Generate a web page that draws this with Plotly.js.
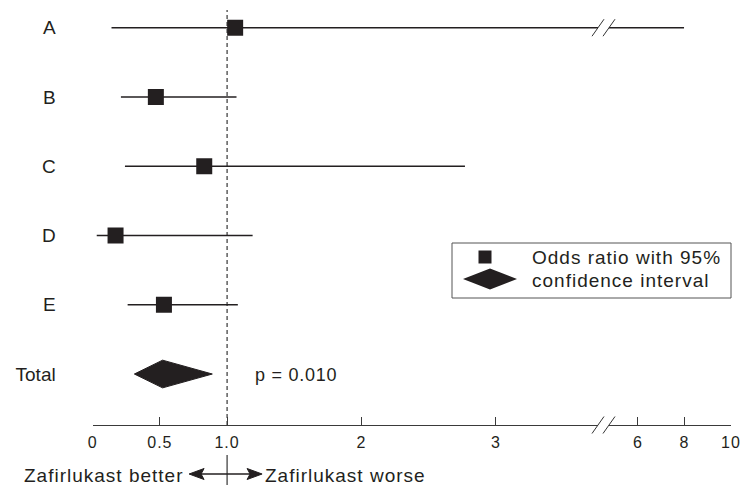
<!DOCTYPE html>
<html>
<head>
<meta charset="utf-8">
<script src="https://cdn.plot.ly/plotly-3.0.1.min.js"></script>
<style>html,body{margin:0;padding:0;background:#fff;}</style>
</head>
<body>
<div id="chart" style="width:742px;height:485px;"></div>
<script>
// ---- data ----
const studies = ['A', 'B', 'C', 'D', 'E'];
const oddsRatio = [1.06, 0.47, 0.83, 0.17, 0.53];
const ciLow = [0.14, 0.21, 0.24, 0.03, 0.26];
const ciHigh = [7.98, 1.07, 2.77, 1.19, 1.08];
const totalLabel = 'Total';
const totalOR = 0.52;
const totalLow = 0.31;
const totalHigh = 0.89;
const pText = 'p = 0.010';
const xTickVals1 = [0, 0.5, 1, 2, 3];
const xTickText1 = ['0', '0.5', '1.0', '2', '3'];
const xTickVals2 = [6, 8, 10];
const xTickText2 = ['6', '8', '10'];
const legendLine1 = 'Odds ratio with 95%';
const legendLine2 = 'confidence interval';
const betterText = 'Zafirlukast better';
const worseText = 'Zafirlukast worse';

// ---- layout constants ----
const W = 742, H = 485;
const px = v => v / W;
const py = v => 1 - v / H;
const FONT = 'Liberation Sans, Arial, Helvetica, sans-serif';
const INK = '#231f20';
const X1_DOMAIN = [px(92.7), px(598)], X1_RANGE = [0, 3.76];
const X2_DOMAIN = [px(609), px(731)], X2_RANGE = [4.753, 10];
const Y_DOMAIN = [py(425), 1], Y_RANGE = [0.264, 6.4];
const DIAMOND_HALF = 0.2;
const sp = (t, s) => '<span style="letter-spacing:' + s + 'px">' + t + '</span>';

// row positions (top row highest)
const rowY = studies.map((s, i) => studies.length - i + 1);
const totalY = 1;

const lx = [], ly = [];
studies.forEach((s, i) => {
  lx.push(ciLow[i], ciHigh[i], null);
  ly.push(rowY[i], rowY[i], null);
});

const traces = [
  {x: lx, y: ly, xaxis: 'x', yaxis: 'y', mode: 'lines', type: 'scatter',
   line: {color: INK, width: 1.4}, hoverinfo: 'skip'},
  {x: lx, y: ly, xaxis: 'x2', yaxis: 'y', mode: 'lines', type: 'scatter',
   line: {color: INK, width: 1.4}, hoverinfo: 'skip'},
  {x: oddsRatio, y: rowY, xaxis: 'x', yaxis: 'y', mode: 'markers', type: 'scatter',
   marker: {symbol: 'square', size: 16, color: INK, line: {width: 0}}},
  {x: [totalLow, totalOR, totalHigh, totalOR, totalLow],
   y: [totalY, totalY + DIAMOND_HALF, totalY, totalY - DIAMOND_HALF, totalY],
   xaxis: 'x', yaxis: 'y', mode: 'lines', type: 'scatter', fill: 'toself',
   fillcolor: INK, line: {color: INK, width: 1}}
];

const slash = (xanchor, yref, yanchor) => ({
  type: 'line', xref: 'paper', xsizemode: 'pixel', xanchor: xanchor,
  yref: yref, ysizemode: 'pixel', yanchor: yanchor,
  x0: -6, x1: 6, y0: -8.5, y1: 8.5, line: {color: '#333', width: 1}
});

const shapes = [
  // reference line at OR = 1
  {type: 'line', xref: 'x', yref: 'y', x0: 1, x1: 1, y0: Y_RANGE[0], y1: 6.255,
   line: {color: '#333', width: 1.2, dash: '4px,3px'}, layer: 'below'},
  {type: 'line', xref: 'x', yref: 'paper', x0: 1, x1: 1, y0: 0, y1: py(455),
   line: {color: '#333', width: 1.2}},
  // arrows
  {type: 'line', xref: 'x', xsizemode: 'pixel', xanchor: 1, yref: 'paper', ysizemode: 'pixel',
   yanchor: py(474), x0: -28, x1: 26, y0: 0, y1: 0, line: {color: INK, width: 1.5}},
  {type: 'path', xref: 'x', xsizemode: 'pixel', xanchor: 1, yref: 'paper', ysizemode: 'pixel',
   yanchor: py(474), path: 'M-38,0 L-23,5.5 L-26,0 L-23,-5.5 Z', fillcolor: INK, line: {color: INK, width: 1}},
  {type: 'path', xref: 'x', xsizemode: 'pixel', xanchor: 1, yref: 'paper', ysizemode: 'pixel',
   yanchor: py(474), path: 'M35,0 L20,5.5 L23,0 L20,-5.5 Z', fillcolor: INK, line: {color: INK, width: 1}},
  // axis breaks
  slash(X1_DOMAIN[1], 'y', rowY[0]), slash(X2_DOMAIN[0], 'y', rowY[0]),
  slash(X1_DOMAIN[1], 'paper', Y_DOMAIN[0]), slash(X2_DOMAIN[0], 'paper', Y_DOMAIN[0]),
  // legend box
  {type: 'rect', xref: 'paper', yref: 'paper', x0: px(452), x1: px(731), y0: py(298), y1: py(243),
   line: {color: '#555', width: 1}, fillcolor: 'rgba(0,0,0,0)'},
  {type: 'rect', xref: 'paper', xsizemode: 'pixel', xanchor: px(485), yref: 'paper', ysizemode: 'pixel',
   yanchor: py(257), x0: -6.5, x1: 6.5, y0: -6.5, y1: 6.5, fillcolor: INK, line: {width: 0}},
  {type: 'path', xref: 'paper', xsizemode: 'pixel', xanchor: px(490), yref: 'paper', ysizemode: 'pixel',
   yanchor: py(279), path: 'M-27,0 L0,10.5 L27,0 L0,-10.5 Z', fillcolor: INK, line: {width: 0}}
];

const ann = (text, x, y, xanchor, size, s) => ({
  text: sp(text, s), xref: 'paper', yref: 'paper', x: x, y: y, xanchor: xanchor, yanchor: 'middle',
  showarrow: false, font: {family: FONT, size: size, color: INK}
});

const annotations = [
  ann(pText, px(253), py(375), 'left', 18, 0.75),
  ann(legendLine1, px(530), py(257), 'left', 19, 1),
  ann(legendLine2, px(530), py(280), 'left', 19, 1),
  ann(betterText, px(186), py(475), 'right', 19, 1),
  ann(worseText, px(263), py(475), 'left', 19, 1)
];

const xCommon = {
  showline: true, linecolor: '#3a3a3a', linewidth: 1, ticks: 'inside', ticklen: 8, tickwidth: 1,
  tickcolor: '#3a3a3a', showgrid: false, zeroline: false, anchor: 'y',
  tickfont: {family: FONT, size: 16, color: INK}, tickmode: 'array', ticklabelstandoff: 3
};

const layout = {
  width: W, height: H, margin: {l: 0, r: 0, t: 0, b: 0},
  paper_bgcolor: '#fff', plot_bgcolor: '#fff', showlegend: false,
  xaxis: Object.assign({}, xCommon, {domain: X1_DOMAIN, range: X1_RANGE,
    tickvals: xTickVals1, ticktext: xTickText1.map(t => sp(t, 1))}),
  xaxis2: Object.assign({}, xCommon, {domain: X2_DOMAIN, range: X2_RANGE,
    tickvals: xTickVals2, ticktext: xTickText2.map(t => sp(t, 1))}),
  yaxis: {domain: Y_DOMAIN, range: Y_RANGE, anchor: 'x', showline: false, showgrid: false,
    zeroline: false, ticks: '', tickmode: 'array',
    tickvals: rowY.concat([totalY]), ticktext: studies.concat([totalLabel]),
    tickfont: {family: FONT, size: 19, color: INK}, ticklabelstandoff: 36},
  shapes: shapes, annotations: annotations
};

Plotly.newPlot('chart', traces, layout, {staticPlot: true, displayModeBar: false});
</script>
</body>
</html>
